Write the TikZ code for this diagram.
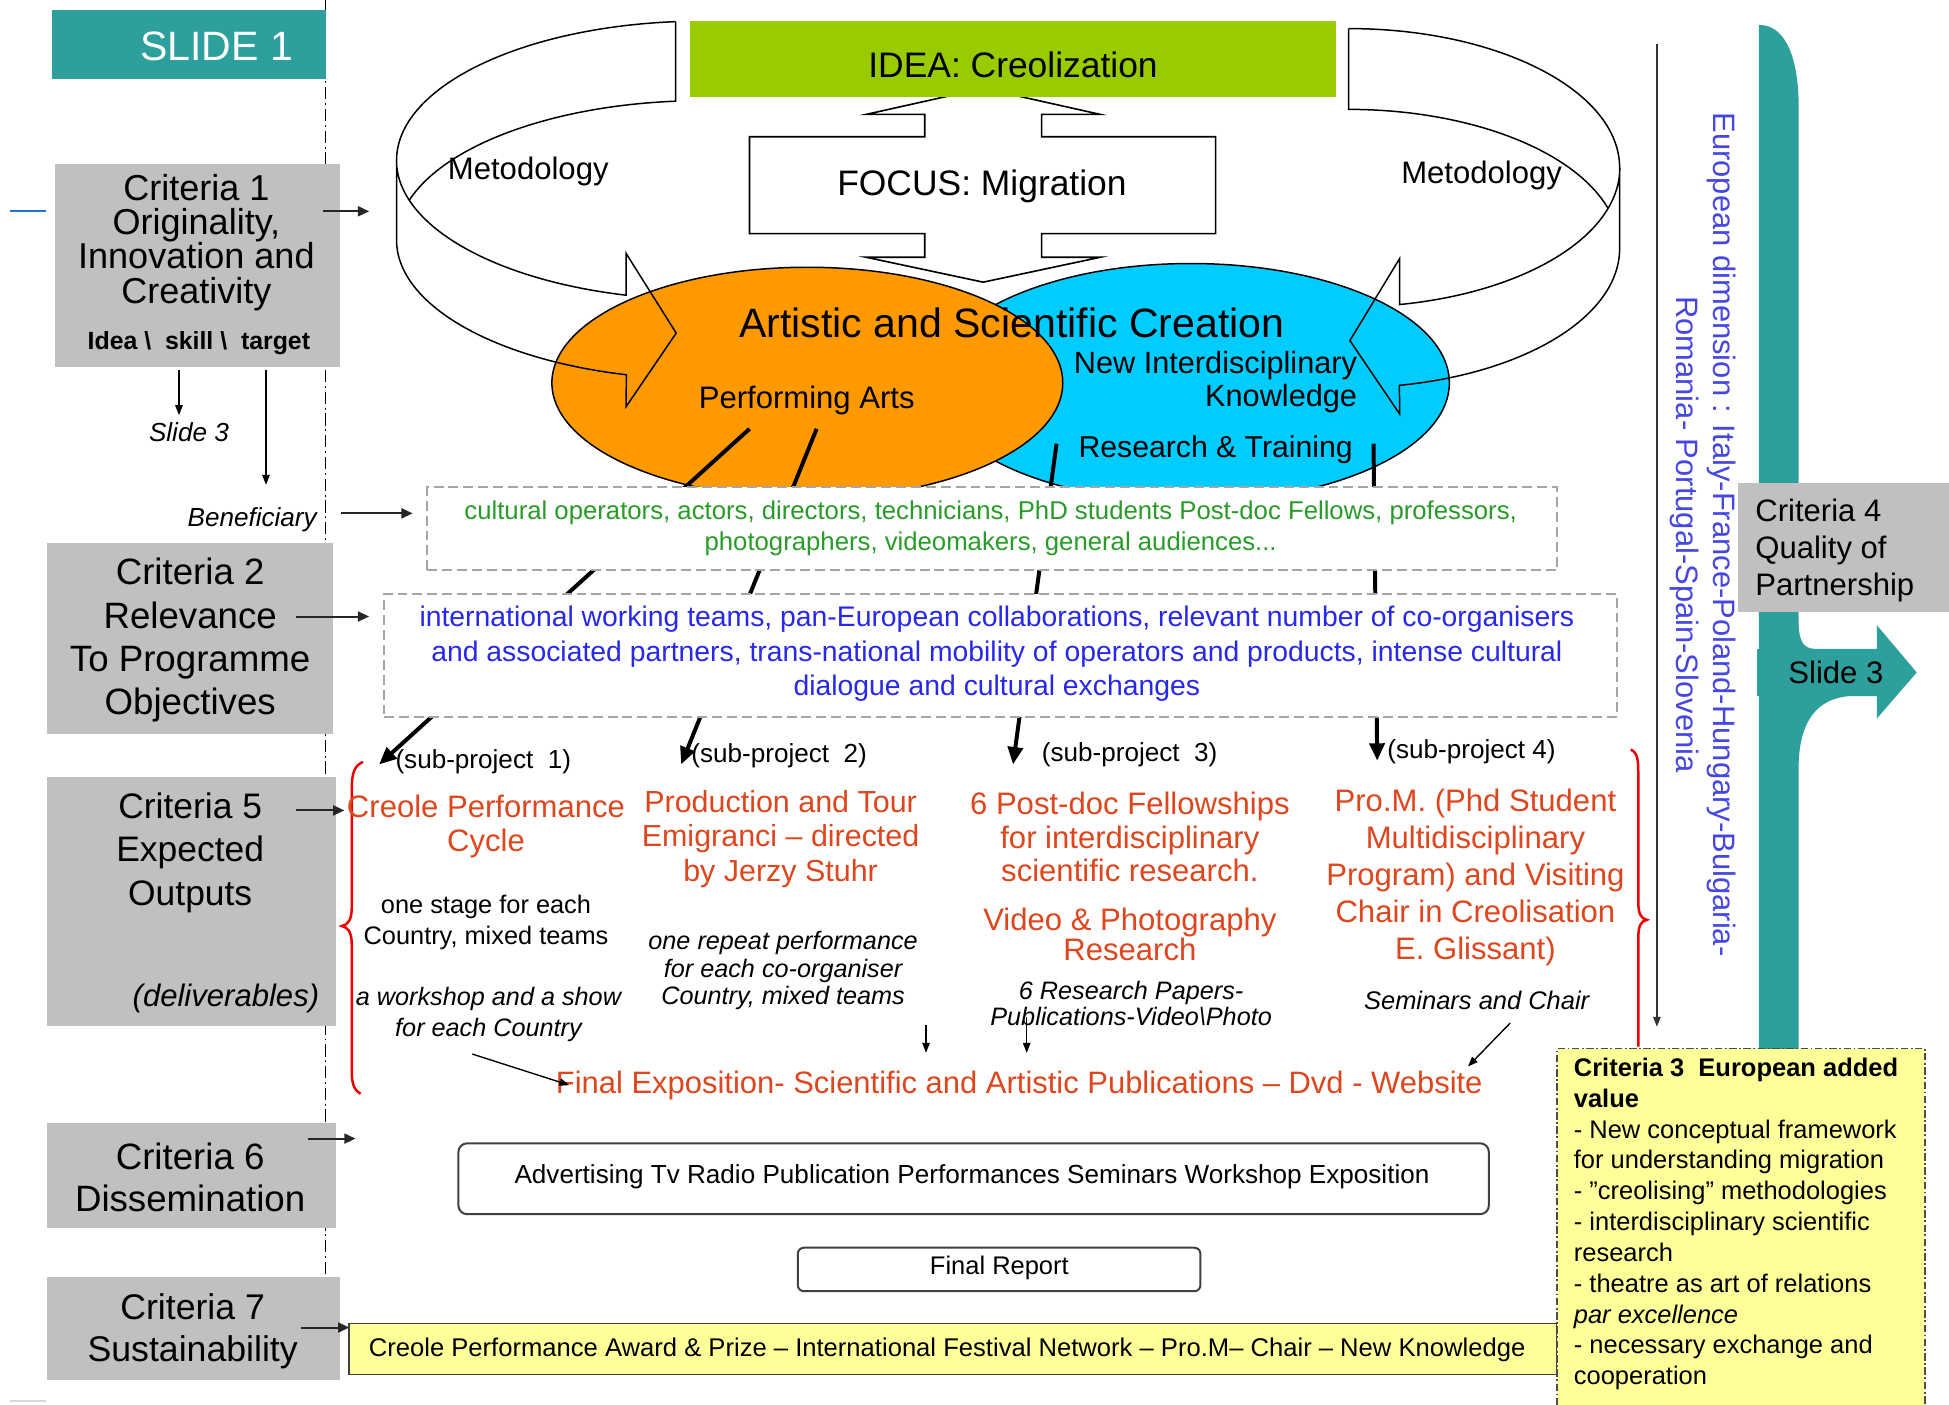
\documentclass[tikz,border=0pt]{standalone}
\usepackage{fontspec}
\setmainfont{Liberation Sans}
\usetikzlibrary{arrows.meta}
\definecolor{tealA}{RGB}{45,160,157}
\definecolor{critgray}{RGB}{192,192,192}
\definecolor{ideagreen}{RGB}{153,204,0}
\definecolor{orng}{RGB}{255,153,0}
\definecolor{cyanb}{RGB}{0,204,255}
\definecolor{txtgreen}{RGB}{40,155,40}
\definecolor{txtblue}{RGB}{40,40,235}
\definecolor{txtred}{RGB}{222,70,30}
\definecolor{vblue}{RGB}{70,70,225}
\definecolor{lyellow}{RGB}{255,255,153}
\definecolor{dashgray}{RGB}{165,165,165}
\definecolor{bracered}{RGB}{235,0,0}
\newcommand{\fsz}[2]{\fontsize{#1}{#2}\selectfont}
\begin{document}
\begin{tikzpicture}[x=1pt,y=-1pt,
  txt/.style={inner sep=0pt, align=center},
  critbox/.style={fill=critgray, draw=none, inner sep=0pt, anchor=north west},
  dashbox/.style={fill=white, draw=dashgray, line width=1.6pt, dash pattern=on 8pt off 4pt, inner sep=0pt, anchor=north west},
  roundbox/.style={fill=white, draw=black!75, line width=1.6pt, rounded corners=7pt, inner sep=0pt, anchor=north west},
  arr/.style={-{Triangle[length=9pt,width=8pt]}, line width=1.6pt, draw=black!85},
  thinarr/.style={-{Triangle[length=8pt,width=6pt]}, line width=1.1pt},
  thickarr/.style={line width=3.2pt, -{Triangle[length=14pt,width=12pt]}},
  ring/.style={line width=1.2pt, draw=black},
]
\useasboundingbox (0,0) rectangle (1568,1130);
\fill[white] (0,0) rectangle (1568,1130);

% side guide lines
\draw[line width=1.2pt, dash pattern=on 10pt off 3pt on 1.5pt off 3pt] (262,0) -- (262,1030);
\draw[line width=1.6pt, draw={rgb,255:red,30;green,115;blue,200}] (8,170) -- (37,170);
\draw[line width=1.6pt, draw=black!15] (8,1127) -- (37,1127);

% SLIDE 1
\node[fill=tealA, minimum width=220, minimum height=55, inner sep=0pt, anchor=north west] (s1) at (42,8) {};
\node[txt, anchor=east, text=white, font=\fsz{33}{36}] (s1t) at (236,37) {SLIDE 1};

% Criteria boxes
\node[critbox, minimum width=229, minimum height=163] (c1) at (44,132) {};
\node[critbox, minimum width=230, minimum height=153] (c2) at (38,437) {};
\node[critbox, minimum width=232, minimum height=200] (c5) at (38,625) {};
\node[critbox, minimum width=232, minimum height=85] (c6) at (38,903) {};
\node[critbox, minimum width=235, minimum height=83] (c7) at (38,1027) {};

\node[txt, font=\fsz{29}{27.7}] (c1t) at (158,195) {Criteria 1\\Originality,\\Innovation and\\Creativity};
\node[txt, font=\fsz{20}{20}\bfseries] (c1s) at (160,276) {Idea \textbackslash\ \ skill \textbackslash\ \ target};
\node[txt, font=\fsz{29.5}{34.7}] (c2t) at (153,515) {Criteria 2\\Relevance\\To Programme\\Objectives};
\node[txt, font=\fsz{28.5}{35}] (c5t) at (153,686) {Criteria 5\\Expected\\Outputs};
\node[txt, anchor=east, font=\fsz{25}{26}\itshape] (c5d) at (257,803) {(deliverables)};
\node[txt, font=\fsz{29.5}{34}] (c6t) at (153,947) {Criteria 6\\Dissemination};
\node[txt, font=\fsz{28.7}{34}] (c7t) at (155,1071) {Criteria 7\\Sustainability};

\node[txt, font=\fsz{21}{22}\itshape] (sl3) at (152,348) {Slide 3};
\node[txt, anchor=east, font=\fsz{21}{22}\itshape] (benl) at (255,418) {Beneficiary};

% left arrows
\coordinate (a1s) at (260,170); \coordinate (a1e) at (297,170);
\draw[arr] (a1s) -- (a1e);
\coordinate (sk) at (144,298); \coordinate (skE) at (144,334);
\draw[thinarr] (sk) -- (skE);
\coordinate (tg) at (214,298); \coordinate (tgE) at (214,390);
\draw[thinarr] (tg) -- (tgE);
\coordinate (bnS) at (274,413); \coordinate (bnE) at (332,413);
\draw[arr] (bnS) -- (bnE);
\coordinate (a2s) at (238,496); \coordinate (a2e) at (297,496);
\draw[arr] (a2s) -- (a2e);
\coordinate (a5s) at (238,652); \coordinate (a5e) at (277,652);
\draw[arr] (a5s) -- (a5e);
\coordinate (a6s) at (248,916); \coordinate (a6e) at (286,916);
\draw[arr] (a6s) -- (a6e);
\coordinate (a7s) at (242,1068); \coordinate (a7e) at (281,1068);
\draw[arr] (a7s) -- (a7e);

% FOCUS double arrow
\draw[line width=1.3pt, fill=white] (744,92) -- (697,92) -- (791,71) -- (885,92) -- (838,92) -- (838,110) -- (978,110) -- (978,188) -- (838,188) -- (838,207) -- (885,207) -- (791,227) -- (697,207) -- (744,207) -- (744,188) -- (603,188) -- (603,110) -- (744,110) -- cycle;
\node[txt, font=\fsz{28.5}{30}] (focus) at (790,150) {FOCUS: Migration};

% IDEA box
\node[fill=ideagreen, minimum width=520, minimum height=61, inner sep=0pt, anchor=north west] (idea) at (555,17) {};
\node[txt, font=\fsz{28.5}{30}] (ideat) at (815,52) {IDEA: Creolization};

% ellipses
\draw[line width=1.2pt, fill=cyanb] (958,308) ellipse [x radius=208, y radius=96];
\draw[line width=1.2pt, fill=orng] (649.5,308) ellipse [x radius=205.5, y radius=93];

% left ribbon
\draw[ring] (543.6,17.4) arc[start angle=-95, end angle=-180, x radius=246, y radius=112]
  -- (319,193) arc[start angle=180, end angle=104.4, x radius=246, y radius=112]
  -- (503.8,327) -- (544,268) -- (503.8,204) -- (503.8,237.5)
  arc[start angle=104.4, end angle=180, x radius=246, y radius=112];
\draw[ring] (543.6,17.4) -- (543.6,81.4) arc[start angle=-95, end angle=-163.4, x radius=246, y radius=112];
% right ribbon
\draw[ring] (1085,23) arc[start angle=-90, end angle=0, x radius=218, y radius=112]
  -- (1303,200) arc[start angle=0, end angle=79.2, x radius=218, y radius=112]
  -- (1126,333) -- (1086,274) -- (1126,208) -- (1126,245)
  arc[start angle=79.2, end angle=0, x radius=218, y radius=112];
\draw[ring] (1085,23) -- (1085,88) arc[start angle=-90, end angle=-16.9, x radius=218, y radius=112];

\node[txt, font=\fsz{25}{26}] (met1) at (425,138) {Metodology};
\node[txt, font=\fsz{25}{26}] (met2) at (1192,141) {Metodology};

% thick connectors from the ellipses
\coordinate (p1) at (603,345); \coordinate (q1) at (305,615);
\coordinate (p2) at (657,345); \coordinate (q2) at (548,615);
\coordinate (p3) at (850,357); \coordinate (q3) at (815,615);
\coordinate (p4) at (1105,357); \coordinate (q4) at (1108,612);
\draw[thickarr] (p1) -- (q1);
\draw[thickarr] (p2) -- (q2);
\draw[thickarr] (p3) -- (q3);
\draw[thickarr] (p4) -- (q4);

\node[txt, font=\fsz{33}{34}] (asc) at (814,260) {Artistic and Scientific Creation};
\node[txt, font=\fsz{25}{26}] (pa) at (649,322) {Performing Arts};
\node[txt, align=right, anchor=east, font=\fsz{24.7}{26.5}] (nik) at (1092,307) {New Interdisciplinary\\Knowledge};
\node[txt, font=\fsz{24.3}{25}] (rt) at (978,362) {Research \& Training};

% dashed boxes
\node[dashbox, minimum width=909, minimum height=67] (ben) at (343,391) {};
\node[txt, text=txtgreen, font=\fsz{20.7}{25}] (bent) at (797,425) {cultural operators, actors, directors, technicians, PhD students Post-doc Fellows, professors,\\photographers, videomakers, general audiences...};
\node[dashbox, minimum width=992, minimum height=99] (obj) at (308,477) {};
\node[txt, text=txtblue, font=\fsz{22.8}{27.5}] (objt) at (802,526) {international working teams, pan-European collaborations, relevant number of co-organisers\\and associated partners, trans-national mobility of operators and products, intense cultural\\dialogue and cultural exchanges};

% sub-project labels
\node[txt, anchor=west, font=\fsz{21}{21}] (sp1) at (318,613) {(sub-project\ \ 1)};
\node[txt, anchor=west, font=\fsz{21}{21}] (sp2) at (556,608) {(sub-project\ \ 2)};
\node[txt, anchor=west, font=\fsz{21}{21}] (sp3) at (838,607) {(sub-project\ \ 3)};
\node[txt, anchor=west, font=\fsz{21}{21}] (sp4) at (1116,605) {(sub-project 4)};

% braces
\draw[bracered, line width=2pt] (292,613) .. controls (285,616) and (283,622) .. (283,635) -- (283,730) .. controls (283,740) and (280,744) .. (275,745) .. controls (280,746) and (283,750) .. (283,760) -- (283,862) .. controls (283,872) and (285,877) .. (290,880);
\draw[bracered, line width=2pt] (1312,603) .. controls (1318,606) and (1318,612) .. (1318,625) -- (1318,725) .. controls (1318,735) and (1320,739) .. (1325,740) .. controls (1320,741) and (1318,745) .. (1318,755) -- (1318,842);

% deliverables
\node[txt, text=txtred, font=\fsz{25}{27.5}] (d1) at (391,665) {Creole Performance\\Cycle};
\node[txt, text=txtred, font=\fsz{24.5}{27.5}] (d2) at (628,675) {Production and Tour\\Emigranci -- directed\\by Jerzy Stuhr};
\node[txt, text=txtred, font=\fsz{25}{27}] (d3) at (909,673.5) {6 Post-doc Fellowships\\for interdisciplinary\\scientific research.};
\node[txt, text=txtred, font=\fsz{25}{24.5}] (d3b) at (909,751.5) {Video \& Photography\\Research};
\node[txt, text=txtred, font=\fsz{25}{29.7}] (d4) at (1187,706) {Pro.M. (Phd Student\\Multidisciplinary\\Program) and Visiting\\Chair in Creolisation\\E. Glissant)};

\node[txt, font=\fsz{20.4}{25}] (e1) at (391,742) {one stage for each\\Country, mixed teams};
\node[txt, font=\fsz{20.3}{25}\itshape] (e1b) at (393,816) {a workshop and a show\\for each Country};
\node[txt, font=\fsz{20.3}{22}\itshape] (e2) at (630,781) {one repeat performance\\for each co-organiser\\Country, mixed teams};
\node[txt, font=\fsz{20.3}{20.5}\itshape] (e3) at (910,807.5) {6 Research Papers-\\Publications-Video\textbackslash Photo};
\node[txt, font=\fsz{20.5}{20}\itshape] (e4) at (1188,805) {Seminars and Chair};

\node[txt, text=txtred, font=\fsz{24.9}{26}] (fin) at (820,873) {Final Exposition- Scientific and Artistic Publications -- Dvd - Website};

\coordinate (f1s) at (380,848); \coordinate (f1e) at (458,873);
\draw[thinarr] (f1s) -- (f1e);
\coordinate (f2s) at (745,825); \coordinate (f2e) at (745,847);
\draw[thinarr] (f2s) -- (f2e);
\coordinate (f3s) at (826,818); \coordinate (f3e) at (826,847);
\draw[thinarr] (f3s) -- (f3e);
\coordinate (f4s) at (1215,823); \coordinate (f4e) at (1181,858);
\draw[thinarr] (f4s) -- (f4e);

% dissemination and report
\node[roundbox, minimum width=829, minimum height=57] (adv) at (368,919) {};
\node[txt, font=\fsz{21}{22}] (advt) at (782,947) {Advertising Tv Radio Publication Performances Seminars Workshop Exposition};
\node[roundbox, minimum width=324, minimum height=35, rounded corners=5pt] (rep) at (641,1003) {};
\node[txt, font=\fsz{20.5}{22}] (rept) at (804,1020) {Final Report};
\node[fill=lyellow, draw=black!75, line width=1.4pt, minimum width=972, minimum height=41, inner sep=0pt, anchor=north west] (sus) at (280,1064) {};
\node[txt, font=\fsz{20.6}{22}] (sust) at (762,1086) {Creole Performance Award \& Prize -- International Festival Network -- Pro.M-- Chair -- New Knowledge};

% right side vertical arrow and text
\coordinate (vs) at (1333,35); \coordinate (ve) at (1333,826);
\draw[thinarr, draw=black!80] (vs) -- (ve);
\node[txt, rotate=-90, text=vblue, font=\fsz{24.9}{30}] (eud) at (1370,430) {European dimension : Italy-France-Poland-Hungary-Bulgaria-\\Romania- Portugal-Spain-Slovenia};

% teal arrow
\fill[tealA] (1415,845) -- (1415,20) .. controls (1438,20) and (1447,50) .. (1447,85) -- (1447,500) .. controls (1447,514) and (1450,522) .. (1460,522) -- (1510,522) -- (1510,503) -- (1542,541) -- (1510,578) -- (1510,560) -- (1488,560) .. controls (1462,562) and (1447,580) .. (1447,618) -- (1447,845) -- cycle;
\node[fill=tealA, minimum width=97, minimum height=38, inner sep=0pt, anchor=north west] (sl3b) at (1413,522) {};
\node[txt, font=\fsz{25}{26}] (sl3t) at (1477,541) {Slide 3};
\node[critbox, minimum width=175, minimum height=104] (c4) at (1398,388) {};
\node[txt, align=left, anchor=west, font=\fsz{25}{30}] (c4t) at (1412,443) {Criteria 4\\Quality of\\Partnership};

% criteria 3
\node[fill=lyellow, draw=black!70, line width=1.3pt, dash pattern=on 6pt off 2pt on 1.5pt off 2pt, minimum width=296, minimum height=300, inner sep=0pt, anchor=north west] (c3) at (1252,843) {};
\node[txt, align=left, anchor=north west, font=\fsz{20.5}{24.8}] (c3t) at (1266,851) {\textbf{Criteria 3\ \ European added}\\\textbf{value}\\- New conceptual framework\\for understanding migration\\- "creolising" methodologies\\- interdisciplinary scientific\\research\\- theatre as art of relations\\\textit{par excellence}\\- necessary exchange and\\cooperation};
\end{tikzpicture}
\end{document}
